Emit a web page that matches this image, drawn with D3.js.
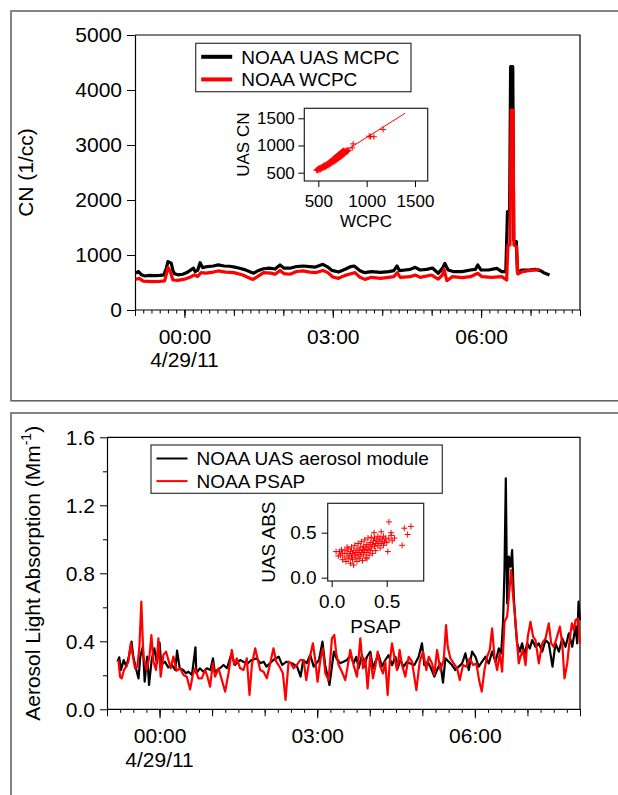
<!DOCTYPE html>
<html>
<head>
<meta charset="utf-8">
<script src="https://cdn.jsdelivr.net/npm/d3@7"></script>
<style>
  body { margin: 0; background: #fff; }
  svg { display: block; }
  text { font-family: "Liberation Sans", Arial, Helvetica, sans-serif; fill: #000; }
</style>
</head>
<body>
<svg id="chart" width="618" height="795"></svg>
<script>
// times are minutes after 23:00 on 4/28/11
const start = new Date(2011, 3, 28, 23, 0);
const end = new Date(2011, 3, 29, 8, 0);
const tm = m => new Date(start.getTime() + m * 60000);

// top panel, CN (1/cc)
const mcpc = [[1,667],[4,700],[8,640],[12,618],[18,630],[24,625],[30,630],[35,640],[38,760],[40,879],[44,850],[46,720],[48,660],[52,640],[58,650],[63,680],[67,720],[71,760],[73,700],[76,720],[79,860],[82,770],[88,790],[95,800],[101,820],[108,800],[115,795],[121,780],[127,760],[134,730],[140,690],[144,670],[150,720],[156,750],[163,760],[170,745],[176,820],[181,760],[188,760],[196,790],[204,800],[212,790],[219,780],[228,830],[234,780],[239,720],[247,690],[255,740],[262,790],[266,800],[273,715],[279,679],[287,697],[298,685],[308,697],[314,715],[318,800],[321,715],[328,727],[334,739],[340,776],[346,727],[354,739],[361,763],[368,667],[373,757],[376,848],[380,727],[387,697],[397,697],[407,727],[413,739],[416,818],[420,727],[429,727],[439,757],[445,697],[450,697],[452,1788],[454.6,1788],[455.8,4424],[458.4,4424],[459.6,1273],[462.8,1242],[464,697],[470,727],[478,727],[486,739],[492,715],[496,679],[503,636]];
const wcpc = [[1,560],[5,575],[10,525],[20,515],[30,520],[36,530],[40,770],[43,690],[46,545],[52,540],[60,560],[66,590],[72,640],[76,610],[80,680],[86,670],[95,690],[101,710],[110,690],[120,680],[130,640],[136,600],[143,555],[150,620],[156,680],[165,670],[170,650],[176,720],[181,660],[188,650],[196,700],[204,710],[212,690],[220,680],[228,720],[234,680],[240,600],[247,576],[255,630],[262,660],[267,680],[273,594],[279,557],[287,594],[298,576],[308,594],[314,606],[318,679],[322,594],[334,606],[340,636],[346,594],[360,636],[368,563],[373,636],[375,739],[378.5,533],[385,606],[397,588],[407,606],[416,667],[421,606],[433,594],[445,606],[451,545],[452.5,1182],[455,1182],[456.5,3636],[458.6,3636],[459.8,1182],[463,1152],[464.5,655],[470,697],[478,715],[486,727],[491,739]];

// bottom panel, absorption (Mm-1)
const absUas = [[12,0.28],[14,0.306],[16,0.231],[19,0.29],[22,0.251],[25,0.31],[28,0.398],[30,0.31],[33,0.241],[36,0.182],[38,0.31],[41,0.369],[43,0.162],[46,0.31],[48,0.143],[51,0.29],[54,0.359],[57,0.271],[60,0.392],[62,0.261],[66,0.28],[70,0.247],[74,0.261],[78,0.231],[80,0.345],[83,0.241],[87,0.231],[90,0.212],[93,0.221],[97,0.202],[101,0.365],[102,0.212],[106,0.241],[110,0.221],[114,0.241],[118,0.231],[121,0.3],[123,0.221],[129,0.241],[133,0.261],[137,0.241],[142,0.325],[146,0.261],[152,0.29],[160,0.267],[165,0.29],[171,0.3],[175,0.271],[179,0.28],[182,0.251],[190,0.29],[196,0.31],[200,0.261],[205,0.28],[211,0.271],[217,0.251],[221,0.192],[224,0.29],[228,0.271],[232,0.32],[236,0.251],[242,0.29],[246,0.398],[249,0.261],[254,0.143],[259,0.339],[262,0.3],[266,0.271],[270,0.28],[274,0.29],[278,0.319],[281.5,0.27],[284.6,0.309],[287.3,0.241],[291.1,0.319],[293.7,0.251],[296.8,0.309],[300.6,0.339],[303.6,0.241],[306.3,0.28],[310.1,0.319],[313.9,0.251],[317.7,0.29],[321.5,0.319],[325.4,0.26],[329.2,0.309],[331.8,0.241],[334.9,0.29],[338.7,0.251],[342.5,0.28],[346.3,0.27],[350.9,0.26],[355.8,0.309],[359.6,0.388],[362.3,0.26],[366.1,0.28],[369.9,0.241],[373.7,0.192],[377.6,0.241],[380.6,0.27],[383.6,0.157],[386.3,0.3],[390.1,0.28],[393.9,0.26],[397.7,0.231],[401.6,0.251],[405.4,0.27],[409.2,0.329],[413,0.231],[416.8,0.339],[420.6,0.309],[424.4,0.251],[428.2,0.28],[432,0.309],[435.8,0.27],[439.7,0.339],[443.5,0.28],[447.3,0.358],[450,0.329],[452.2,0.515],[453.8,0.819],[455.3,1.359],[456.8,0.623],[458.7,0.898],[460.6,0.839],[462.5,0.937],[464.4,0.662],[466.3,0.506],[468.2,0.388],[471.3,0.339],[473.9,0.388],[476.6,0.319],[479.7,0.388],[482.7,0.358],[485.4,0.407],[489.2,0.368],[493,0.388],[496.8,0.339],[500.6,0.407],[504.4,0.388],[508.6,0.251],[512,0.388],[515.9,0.339],[519.7,0.417],[523.5,0.368],[527.3,0.447],[531.1,0.368],[534.9,0.486],[536.8,0.388],[538.3,0.633],[539.9,0.525]];
const absPsap = [[13,0.29],[14.9,0.192],[16.8,0.182],[19.4,0.231],[21.7,0.251],[24.4,0.28],[27.1,0.388],[29.3,0.32],[32,0.241],[34.7,0.251],[37,0.369],[39.2,0.633],[41.5,0.31],[45.3,0.231],[48.4,0.31],[50.7,0.437],[53,0.28],[56,0.231],[58.7,0.417],[61.3,0.192],[64.4,0.32],[67.4,0.339],[70.1,0.29],[72.8,0.241],[75.8,0.31],[79.6,0.227],[83.4,0.241],[87.3,0.202],[91.1,0.192],[94.9,0.117],[97.9,0.202],[100.6,0.241],[104.4,0.182],[108.2,0.182],[112,0.231],[114.7,0.192],[117.7,0.133],[120.8,0.271],[123.4,0.192],[127.3,0.241],[131.1,0.172],[134.9,0.104],[138.7,0.212],[142.5,0.349],[145.2,0.261],[148.2,0.3],[152,0.241],[155.8,0.231],[159.6,0.3],[162.7,0.084],[165.4,0.261],[169.2,0.359],[171.8,0.3],[174.9,0.231],[178.7,0.221],[182.5,0.182],[186.3,0.271],[190.1,0.359],[193.2,0.28],[197,0.251],[200.8,0.212],[203.8,0.055],[207.3,0.28],[209.9,0.271],[213,0.241],[216.8,0.261],[220.6,0.29],[224.4,0.29],[227.5,0.172],[231.3,0.3],[235.1,0.388],[237.7,0.29],[240.4,0.162],[243.5,0.29],[246.5,0.359],[249.2,0.212],[253,0.172],[256.8,0.417],[259.5,0.437],[261.7,0.329],[264.4,0.261],[268.2,0.221],[272,0.172],[274.7,0.251],[277.7,0.349],[281.5,0.26],[285.4,0.192],[289.2,0.417],[292.2,0.241],[294.9,0.3],[297.5,0.123],[300.6,0.319],[303.6,0.182],[306.3,0.251],[309,0.339],[312,0.251],[315.1,0.211],[317.7,0.28],[320.4,0.084],[322.7,0.27],[325.4,0.388],[328,0.309],[331.1,0.231],[334.1,0.349],[336.8,0.26],[340.6,0.192],[344.4,0.309],[348.2,0.28],[353.2,0.113],[357,0.28],[360.8,0.339],[364.6,0.231],[367.3,0.309],[371.1,0.27],[373.7,0.202],[376.8,0.349],[380.6,0.231],[384.4,0.29],[387.1,0.496],[389,0.368],[392,0.3],[395.8,0.27],[399.7,0.241],[402.7,0.172],[406.5,0.26],[410.3,0.251],[414.1,0.3],[417.9,0.26],[421.7,0.27],[424.8,0.172],[427.8,0.104],[430.9,0.231],[433.9,0.309],[437,0.349],[439.7,0.476],[442.3,0.309],[445.4,0.231],[448.4,0.329],[451.1,0.221],[453.8,0.515],[456.8,0.545],[459.1,0.682],[461.4,0.819],[463.7,0.662],[465.9,0.545],[468.2,0.388],[470.1,0.27],[472,0.309],[475.1,0.349],[477.8,0.26],[480.4,0.427],[483.5,0.515],[486.5,0.427],[489.2,0.407],[493,0.27],[496.8,0.388],[500.6,0.417],[504.4,0.506],[507.1,0.388],[510.1,0.368],[513.2,0.417],[517,0.486],[519.7,0.388],[522.3,0.182],[525.4,0.27],[528.4,0.417],[530.7,0.506],[533,0.466],[534.9,0.525],[537.6,0.535],[539.9,0.388]];

// inset scatter: [WCPC, UAS CN]
const cnScatter = [[480,545],[490,560],[495,540],[500,575],[505,555],[510,585],[515,565],[520,560],[525,590],[530,575],[535,600],[540,580],[545,610],[550,590],[555,620],[560,600],[560,640],[565,615],[570,630],[575,605],[580,650],[585,625],[590,660],[595,640],[600,670],[600,630],[605,655],[610,685],[615,650],[620,700],[620,665],[625,680],[630,715],[635,670],[640,700],[645,730],[650,690],[650,745],[655,715],[660,760],[660,700],[665,735],[670,775],[670,715],[675,750],[680,790],[680,725],[685,765],[690,805],[690,740],[695,780],[700,820],[700,750],[705,795],[710,835],[710,765],[715,810],[720,850],[720,780],[725,825],[730,865],[730,790],[735,840],[740,880],[740,805],[745,855],[750,895],[750,820],[755,870],[760,905],[760,835],[765,885],[770,850],[775,900],[780,870],[785,910],[790,880],[795,900],[800,890],[805,915],[810,905],[850,955],[860,1030],[1025,1170],[1040,1165],[1075,1160],[1170,1295]];
const cnFit = [[466,550],[1396,1592]];
// inset scatter: [PSAP, UAS ABS]
const absScatter = [[0.04,0.29],[0.06,0.24],[0.07,0.29],[0.08,0.25],[0.09,0.31],[0.10,0.27],[0.10,0.20],[0.12,0.30],[0.12,0.23],[0.13,0.18],[0.14,0.27],[0.14,0.34],[0.15,0.32],[0.15,0.21],[0.16,0.25],[0.17,0.29],[0.17,0.16],[0.18,0.23],[0.18,0.34],[0.19,0.27],[0.19,0.20],[0.20,0.30],[0.20,0.14],[0.21,0.25],[0.21,0.36],[0.22,0.22],[0.22,0.28],[0.23,0.32],[0.23,0.18],[0.24,0.26],[0.24,0.38],[0.25,0.30],[0.25,0.21],[0.26,0.34],[0.26,0.24],[0.27,0.28],[0.27,0.40],[0.28,0.31],[0.28,0.19],[0.29,0.35],[0.29,0.26],[0.30,0.30],[0.30,0.42],[0.31,0.33],[0.31,0.22],[0.32,0.37],[0.32,0.28],[0.32,0.21],[0.33,0.31],[0.33,0.44],[0.34,0.35],[0.34,0.25],[0.35,0.39],[0.35,0.30],[0.36,0.33],[0.36,0.45],[0.37,0.37],[0.37,0.27],[0.38,0.41],[0.385,0.50],[0.39,0.35],[0.39,0.44],[0.40,0.38],[0.40,0.30],[0.41,0.42],[0.42,0.46],[0.42,0.36],[0.43,0.40],[0.44,0.44],[0.44,0.33],[0.45,0.38],[0.45,0.51],[0.46,0.42],[0.47,0.46],[0.47,0.36],[0.48,0.40],[0.49,0.44],[0.50,0.39],[0.51,0.29],[0.52,0.43],[0.52,0.62],[0.54,0.50],[0.54,0.47],[0.55,0.41],[0.57,0.44],[0.64,0.36],[0.66,0.55],[0.69,0.48],[0.72,0.57]];

const cnTicks = [0, 1000, 2000, 3000, 4000, 5000];
const absTicks = [0, 0.4, 0.8, 1.2, 1.6];
const absMinor = [0.2, 0.6, 1.0, 1.4];
const cnInsetTicks = [500, 1000, 1500];
const absInsetTicks = [0, 0.5];

const svg = d3.select("#chart");

// outer panel frames
svg.append("rect").attr("x", 11).attr("y", 11).attr("width", 640).attr("height", 389.8)
  .attr("fill", "none").attr("stroke", "#666").attr("stroke-width", 1.6);
svg.append("rect").attr("x", 11).attr("y", 413).attr("width", 640).attr("height", 420)
  .attr("fill", "none").attr("stroke", "#666").attr("stroke-width", 1.6);

function styleTicks(sel, size) {
  sel.selectAll("text").attr("font-size", size).attr("font-family", null).attr("fill", "#000");
  sel.selectAll("line").attr("stroke", "#000");
  sel.attr("font-family", null);
}

function timeAxis(x, yPos, step, sizes, labelGap, dateGap) {
  const g = svg.append("g").attr("transform", `translate(0,${yPos})`);
  const last = new Date(+end + 1);
  const sets = [
    [d3.timeMinute.every(step).range(start, last), sizes[0], ""],
    [d3.timeHour.range(start, last), sizes[1], ""],
    [d3.timeHour.every(3).range(start, last), sizes[2], d3.timeFormat("%H:%M")]
  ];
  sets.forEach(([vals, size, fmt]) => {
    const a = g.append("g").call(d3.axisBottom(x).tickValues(vals).tickSize(size)
      .tickSizeOuter(0).tickPadding(labelGap).tickFormat(fmt));
    a.select(".domain").remove();
    styleTicks(a, 21);
  });
  g.append("line").attr("x1", x.range()[0]).attr("x2", x.range()[1])
    .attr("stroke", "#000").attr("stroke-width", 1.2);
  const midnight = new Date(2011, 3, 29, 0, 0);
  g.append("text").attr("x", x(midnight)).attr("y", dateGap)
    .attr("text-anchor", "middle").attr("font-size", 21).text("4/29/11");
}

function frame(x, y) {
  const [x0, x1] = x.range(), [y0, y1] = y.range();
  svg.append("path").attr("d", `M${x0},${y1}H${x1}V${y0}`)
    .attr("fill", "none").attr("stroke", "#000").attr("stroke-width", 1.2);
}

function legend(x0, y0, w, h, rows, lw) {
  const g = svg.append("g");
  g.append("rect").attr("x", x0).attr("y", y0).attr("width", w).attr("height", h)
    .attr("fill", "#fff").attr("stroke", "#333").attr("stroke-width", 1.2);
  rows.forEach((r, i) => {
    const cy = y0 + 13.5 + i * 22.6;
    g.append("line").attr("x1", x0 + 5.5).attr("x2", x0 + 36.5).attr("y1", cy).attr("y2", cy)
      .attr("stroke", r.color).attr("stroke-width", lw);
    g.append("text").attr("x", x0 + 45.5).attr("y", cy + 6.8).attr("font-size", 19).text(r.label);
  });
}

function inset(xs, ys, pts, xTicks, yTicks, fmt, fs, xlab, ylab, xLabY, yLabX, pad) {
  const [x0, x1] = xs.range(), [y0, y1] = ys.range();
  const g = svg.append("g");
  g.append("rect").attr("x", x0).attr("y", y1).attr("width", x1 - x0).attr("height", y0 - y1)
    .attr("fill", "#fff").attr("stroke", "#222").attr("stroke-width", 1.2);
  const ax = g.append("g").attr("transform", `translate(0,${y0})`)
    .call(d3.axisBottom(xs).tickValues(xTicks).tickSize(6).tickSizeOuter(0).tickPadding(pad[0]).tickFormat(fmt));
  ax.select(".domain").remove();
  styleTicks(ax, fs);
  const ay = g.append("g").attr("transform", `translate(${x0},0)`)
    .call(d3.axisLeft(ys).tickValues(yTicks).tickSize(6).tickSizeOuter(0).tickPadding(pad[1]).tickFormat(fmt));
  ay.select(".domain").remove();
  styleTicks(ay, fs);
  g.selectAll("path.pt").data(pts).join("path").attr("class", "pt")
    .attr("d", d => `M${xs(d[0]) - 3},${ys(d[1])}h6M${xs(d[0])},${ys(d[1]) - 3}v6`)
    .attr("stroke", "#f00").attr("stroke-width", 1);
  g.append("text").attr("x", (x0 + x1) / 2).attr("y", xLabY).attr("text-anchor", "middle")
    .attr("font-size", fs).text(xlab);
  g.append("text").attr("transform", `translate(${yLabX},${(y0 + y1) / 2}) rotate(-90)`)
    .attr("text-anchor", "middle").attr("font-size", fs).text(ylab);
  return g;
}

// ---------- top panel ----------
const x1 = d3.scaleTime().domain([start, end]).range([135, 580]);
const y1 = d3.scaleLinear().domain([0, 5000]).range([310, 35]);

frame(x1, y1);
const yAx1 = svg.append("g").attr("transform", "translate(135,0)")
  .call(d3.axisLeft(y1).tickValues(cnTicks).tickSize(8).tickSizeOuter(0).tickPadding(5).tickFormat(d3.format("d")));
yAx1.select(".domain").attr("stroke", "#000").attr("stroke-width", 1.2);
styleTicks(yAx1, 21);
timeAxis(x1, 310, 10, [3.5, 6, 8], 11, 56.7);

svg.append("text").attr("transform", `translate(33,${(35 + 310) / 2}) rotate(-90)`)
  .attr("text-anchor", "middle").attr("font-size", 21).text("CN (1/cc)");

const line1 = d3.line().x(d => x1(tm(d[0]))).y(d => y1(d[1]));
svg.append("path").datum(mcpc).attr("d", line1).attr("fill", "none")
  .attr("stroke", "#000").attr("stroke-width", 3.2).attr("stroke-linejoin", "round");
svg.append("path").datum(wcpc).attr("d", line1).attr("fill", "none")
  .attr("stroke", "#f00").attr("stroke-width", 3.2).attr("stroke-linejoin", "round");

legend(195.7, 43.3, 215.3, 48.4, [
  { label: "NOAA UAS MCPC", color: "#000" },
  { label: "NOAA WCPC", color: "#f00" }
], 4);

const ix1 = d3.scaleLinear().domain([355, 1631]).range([304.3, 427.7]);
const iy1 = d3.scaleLinear().domain([347, 1684]).range([181, 108.3]);
const in1 = inset(ix1, iy1, cnScatter, cnInsetTicks, cnInsetTicks, d3.format("d"), 17,
  "WCPC", "UAS CN", 226.7, 249, [8, 3.5]);
in1.append("path").datum(cnFit).attr("d", d3.line().x(d => ix1(d[0])).y(d => iy1(d[1])))
  .attr("stroke", "#f00").attr("stroke-width", 1).attr("fill", "none");

// ---------- bottom panel ----------
const x2 = d3.scaleTime().domain([start, end]).range([107, 580]);
const y2 = d3.scaleLinear().domain([0, 1.6]).range([709.3, 437.3]);

frame(x2, y2);
const yMin2 = svg.append("g").attr("transform", "translate(107,0)")
  .call(d3.axisLeft(y2).tickValues(absMinor).tickSize(4).tickSizeOuter(0).tickFormat(""));
yMin2.select(".domain").remove();
styleTicks(yMin2, 21);
const yAx2 = svg.append("g").attr("transform", "translate(107,0)")
  .call(d3.axisLeft(y2).tickValues(absTicks).tickSize(7).tickSizeOuter(0).tickPadding(5).tickFormat(d3.format(".1f")));
yAx2.select(".domain").attr("stroke", "#000").attr("stroke-width", 1.2);
styleTicks(yAx2, 21);
timeAxis(x2, 709.3, 15, [3.5, 7, 9], 10, 57.4);

const yl2 = svg.append("text").attr("transform", `translate(40,${(437.3 + 709.3) / 2}) rotate(-90)`)
  .attr("text-anchor", "middle").attr("font-size", 21);
yl2.append("tspan").text("Aerosol Light Absorption (Mm");
yl2.append("tspan").attr("font-size", 14).attr("dy", -9).text("-1");
yl2.append("tspan").attr("dy", 9).text(")");

const line2 = d3.line().x(d => x2(tm(d[0]))).y(d => y2(d[1]));
svg.append("path").datum(absUas).attr("d", line2).attr("fill", "none")
  .attr("stroke", "#000").attr("stroke-width", 2.2).attr("stroke-linejoin", "round");
svg.append("path").datum(absPsap).attr("d", line2).attr("fill", "none")
  .attr("stroke", "#f00").attr("stroke-width", 2.2).attr("stroke-linejoin", "round");

legend(151, 445, 291.3, 48.3, [
  { label: "NOAA UAS aerosol module", color: "#000" },
  { label: "NOAA PSAP", color: "#f00" }
], 2);

const ix2 = d3.scaleLinear().domain([-0.036, 0.836]).range([327.7, 423.7]);
const iy2 = d3.scaleLinear().domain([-0.037, 0.827]).range([581, 503.3]);
inset(ix2, iy2, absScatter, absInsetTicks, absInsetTicks, d3.format(".1f"), 19,
  "PSAP", "UAS ABS", 632.7, 275, [8, 5]);
</script>
</body>
</html>
